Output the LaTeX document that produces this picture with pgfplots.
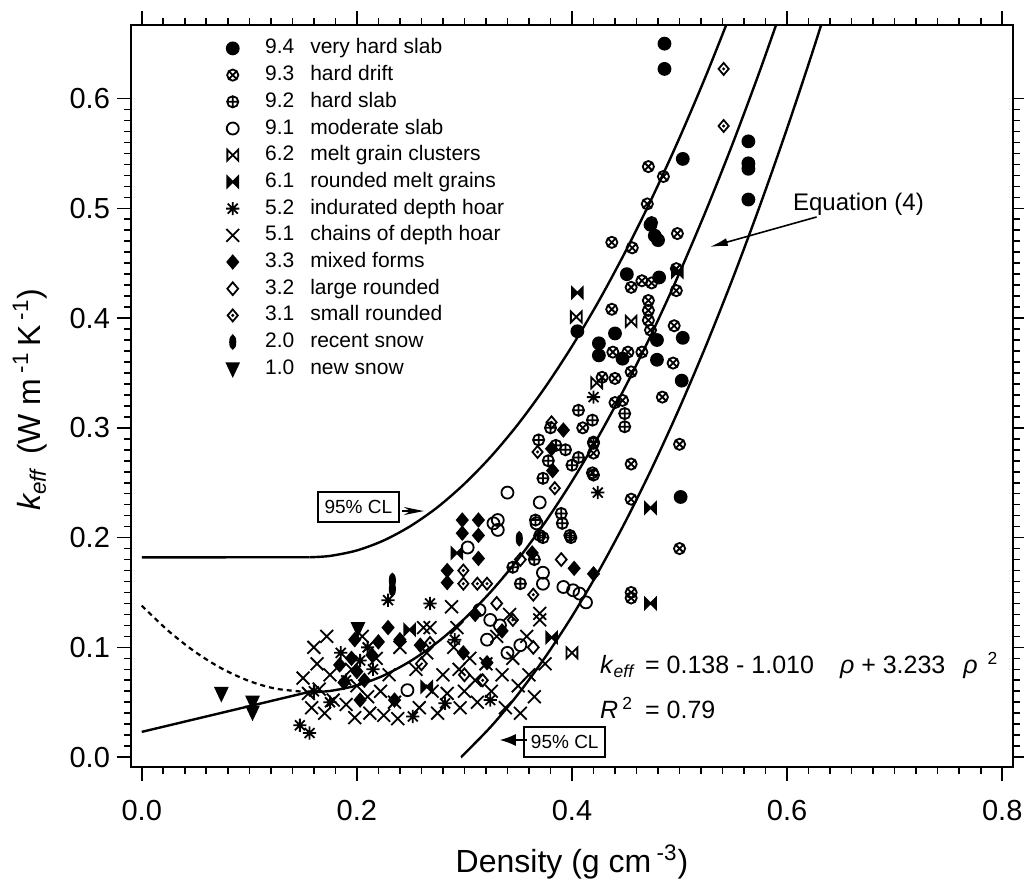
\documentclass[border=0pt]{standalone}
\usepackage{fontspec}
\setmainfont{Liberation Sans}
\usepackage{pgfplots}
\pgfplotsset{compat=1.18}
\usetikzlibrary{arrows.meta}

\pgfdeclareplotmark{bowtie}{%
  \pgfpathmoveto{\pgfqpoint{-\pgfplotmarksize}{\pgfplotmarksize}}%
  \pgfpathlineto{\pgfqpoint{\pgfplotmarksize}{-\pgfplotmarksize}}%
  \pgfpathlineto{\pgfqpoint{\pgfplotmarksize}{\pgfplotmarksize}}%
  \pgfpathlineto{\pgfqpoint{-\pgfplotmarksize}{-\pgfplotmarksize}}%
  \pgfpathclose\pgfusepathqstroke}
\pgfdeclareplotmark{bowtie*}{%
  \pgfpathmoveto{\pgfqpoint{-\pgfplotmarksize}{\pgfplotmarksize}}%
  \pgfpathlineto{\pgfqpoint{\pgfplotmarksize}{-\pgfplotmarksize}}%
  \pgfpathlineto{\pgfqpoint{\pgfplotmarksize}{\pgfplotmarksize}}%
  \pgfpathlineto{\pgfqpoint{-\pgfplotmarksize}{-\pgfplotmarksize}}%
  \pgfpathclose\pgfusepathqfillstroke}
\pgfdeclareplotmark{star8}{%
  \pgfpathmoveto{\pgfqpoint{0pt}{\pgfplotmarksize}}\pgfpathlineto{\pgfqpoint{0pt}{-\pgfplotmarksize}}%
  \pgfpathmoveto{\pgfqpoint{\pgfplotmarksize}{0pt}}\pgfpathlineto{\pgfqpoint{-\pgfplotmarksize}{0pt}}%
  \pgfpathmoveto{\pgfqpoint{0.75\pgfplotmarksize}{0.75\pgfplotmarksize}}\pgfpathlineto{\pgfqpoint{-0.75\pgfplotmarksize}{-0.75\pgfplotmarksize}}%
  \pgfpathmoveto{\pgfqpoint{-0.75\pgfplotmarksize}{0.75\pgfplotmarksize}}\pgfpathlineto{\pgfqpoint{0.75\pgfplotmarksize}{-0.75\pgfplotmarksize}}%
  \pgfusepathqstroke}
\pgfdeclareplotmark{bigx}{%
  \pgfpathmoveto{\pgfqpoint{-\pgfplotmarksize}{-\pgfplotmarksize}}\pgfpathlineto{\pgfqpoint{\pgfplotmarksize}{\pgfplotmarksize}}%
  \pgfpathmoveto{\pgfqpoint{-\pgfplotmarksize}{\pgfplotmarksize}}\pgfpathlineto{\pgfqpoint{\pgfplotmarksize}{-\pgfplotmarksize}}%
  \pgfusepathqstroke}
\pgfdeclareplotmark{odiam}{%
  \pgfpathmoveto{\pgfqpoint{0pt}{\pgfplotmarksize}}%
  \pgfpathlineto{\pgfqpoint{0.85\pgfplotmarksize}{0pt}}%
  \pgfpathlineto{\pgfqpoint{0pt}{-\pgfplotmarksize}}%
  \pgfpathlineto{\pgfqpoint{-0.85\pgfplotmarksize}{0pt}}%
  \pgfpathclose\pgfusepathqstroke}
\pgfdeclareplotmark{fdiam}{%
  \pgfpathmoveto{\pgfqpoint{0pt}{\pgfplotmarksize}}%
  \pgfpathlineto{\pgfqpoint{0.85\pgfplotmarksize}{0pt}}%
  \pgfpathlineto{\pgfqpoint{0pt}{-\pgfplotmarksize}}%
  \pgfpathlineto{\pgfqpoint{-0.85\pgfplotmarksize}{0pt}}%
  \pgfpathclose\pgfusepathqfillstroke}
\pgfdeclareplotmark{ddiam}{%
  \pgfpathmoveto{\pgfqpoint{0pt}{\pgfplotmarksize}}%
  \pgfpathlineto{\pgfqpoint{0.85\pgfplotmarksize}{0pt}}%
  \pgfpathlineto{\pgfqpoint{0pt}{-\pgfplotmarksize}}%
  \pgfpathlineto{\pgfqpoint{-0.85\pgfplotmarksize}{0pt}}%
  \pgfpathclose\pgfusepathqstroke
  \pgfpathcircle{\pgfpointorigin}{0.28\pgfplotmarksize}\pgfusepathqfill}
\pgfdeclareplotmark{snowell}{%
  \pgfpathellipse{\pgfpointorigin}{\pgfqpoint{0.4\pgfplotmarksize}{0pt}}{\pgfqpoint{0pt}{\pgfplotmarksize}}%
  \pgfusepathqfillstroke}
\pgfdeclareplotmark{tridown}{%
  \pgfpathmoveto{\pgfqpoint{0pt}{-\pgfplotmarksize}}%
  \pgfpathlineto{\pgfqpoint{0.85\pgfplotmarksize}{0.8\pgfplotmarksize}}%
  \pgfpathlineto{\pgfqpoint{-0.85\pgfplotmarksize}{0.8\pgfplotmarksize}}%
  \pgfpathclose\pgfusepathqfillstroke}

\pgfplotsset{pts/.style={only marks, black, mark options={line width=0.9pt, solid, fill=black}}}

\begin{document}
\begin{tikzpicture}
\useasboundingbox (-65.5pt,-59pt) rectangle (446.5pt,383.5pt);
\begin{axis}[
  at={(0,0)}, anchor=south west,
  width=441pt, height=371pt, scale only axis,
  xmin=-0.01, xmax=0.81, ymin=-0.009, ymax=0.667,
  axis line style={line width=1pt},
  tick align=outside,
  xtick={0,0.2,0.4,0.6,0.8},
  ytick={0,0.1,0.2,0.3,0.4,0.5,0.6},
  minor x tick num=9, minor y tick num=9,
  major tick length=7pt, minor tick length=3.5pt,
  tick style={line width=0.8pt, black},
  ticklabel style={font=\fontsize{14.5}{17}\selectfont},
  xticklabel shift=6pt,
  /pgf/number format/assume math mode=true,
  xticklabel style={/pgf/number format/.cd,fixed,fixed zerofill,precision=1},
  yticklabel style={/pgf/number format/.cd,fixed,fixed zerofill,precision=1},
  xlabel={Density (g cm\,\textsuperscript{-3})},
  ylabel={{\itshape k}\textsubscript{\itshape eff}\hspace{7pt}(W m\,\textsuperscript{-1}\,K\,\textsuperscript{-1})},
  label style={font=\fontsize{16}{19}\selectfont},
  xlabel style={at={(axis description cs:0.5,-0.128)}, anchor=center},
  ylabel style={at={(axis description cs:-0.1145,0.495)}, anchor=center},
  legend cell align=left,
  legend style={draw=none, fill=none, at={(axis cs:0.0727,0.6547)}, anchor=north west,
    font=\fontsize{10.5}{12}\selectfont, inner sep=0pt, row sep=3.85pt, column sep=10pt,
    nodes={inner sep=0pt, text height=7.5pt, text depth=2pt}},
  legend image code/.code={\draw[#1] plot coordinates {(0pt,0pt)}; \path (-6pt,-3pt) (6pt,3pt);},
]
% curves
\addplot[black, line width=1.2pt, forget plot] coordinates {(0,0.023) (0.156,0.0595)};
\addplot[black, line width=1.2pt, smooth, forget plot] coordinates {
(0.156,0.0591) (0.175,0.0603) (0.2,0.0653) (0.225,0.0744) (0.25,0.0876) (0.275,0.1047)
(0.3,0.1260) (0.325,0.1512) (0.35,0.1805) (0.375,0.2139) (0.4,0.2513) (0.425,0.2927)
(0.45,0.3382) (0.475,0.3877) (0.5,0.4413) (0.525,0.4989) (0.55,0.5605) (0.575,0.6262) (0.6,0.6959)};
\addplot[black, line width=1.1pt, dash pattern=on 2.5pt off 2pt, smooth, forget plot] coordinates {
(0,0.138) (0.025,0.1148) (0.05,0.0956) (0.075,0.0804) (0.1,0.0693) (0.125,0.0623) (0.156,0.0591)};
\addplot[black, line width=1.2pt, forget plot] coordinates {(0,0.182) (0.156,0.1821)};
\addplot[black, line width=1.2pt, smooth, forget plot] coordinates {
(0.156,0.1821) (0.175,0.1833) (0.2,0.1883) (0.225,0.1974) (0.25,0.2106) (0.275,0.2277)
(0.3,0.2490) (0.325,0.2742) (0.35,0.3035) (0.375,0.3369) (0.4,0.3743) (0.425,0.4157)
(0.45,0.4612) (0.475,0.5107) (0.5,0.5643) (0.525,0.6219) (0.55,0.6835)};
\addplot[black, line width=1.2pt, smooth, forget plot] coordinates {
(0.2968,0.0) (0.3,0.0030) (0.325,0.0282) (0.35,0.0575) (0.375,0.0909) (0.4,0.1283)
(0.425,0.1697) (0.45,0.2152) (0.475,0.2647) (0.5,0.3183) (0.525,0.3759) (0.55,0.4375)
(0.575,0.5032) (0.6,0.5729) (0.625,0.6466) (0.65,0.7244)};

% 9.4 very hard slab
\addplot[pts, mark=*, mark size=3pt] coordinates {
(0.486,0.650) (0.486,0.627) (0.503,0.545) (0.564,0.561) (0.564,0.541) (0.564,0.536)
(0.564,0.508) (0.405,0.388) (0.451,0.440) (0.481,0.437) (0.440,0.386) (0.425,0.377)
(0.425,0.366) (0.447,0.363) (0.479,0.380) (0.479,0.362) (0.503,0.382) (0.502,0.343)
(0.501,0.237) (0.473,0.485) (0.477,0.475) (0.480,0.471)};
\addlegendentry{9.4\hspace{8pt}very hard slab}
% 9.3 hard drift
\addplot[pts, mark=otimes, mark size=2.8pt] coordinates {
(0.471,0.538) (0.485,0.529) (0.470,0.504) (0.498,0.477) (0.437,0.469) (0.456,0.464)
(0.474,0.487) (0.465,0.434) (0.474,0.432) (0.455,0.428) (0.471,0.416) (0.471,0.407)
(0.471,0.398) (0.473,0.389) (0.497,0.445) (0.497,0.425) (0.437,0.408) (0.495,0.393)
(0.438,0.369) (0.452,0.369) (0.465,0.369) (0.494,0.359) (0.428,0.346) (0.440,0.345)
(0.455,0.351) (0.440,0.323) (0.447,0.325) (0.484,0.328) (0.500,0.285) (0.455,0.267)
(0.455,0.235) (0.500,0.190) (0.419,0.259) (0.420,0.286) (0.420,0.277) (0.455,0.150)
(0.455,0.145) (0.410,0.300)};
\addlegendentry{9.3\hspace{8pt}hard drift}
% 9.2 hard slab
\addplot[pts, mark=oplus, mark size=2.8pt] coordinates {
(0.406,0.316) (0.419,0.307) (0.420,0.287) (0.406,0.273) (0.420,0.257) (0.400,0.266)
(0.373,0.254) (0.369,0.289) (0.390,0.222) (0.391,0.213) (0.398,0.202) (0.370,0.202)
(0.449,0.313) (0.449,0.301) (0.366,0.216) (0.373,0.200) (0.399,0.200) (0.352,0.158)
(0.345,0.173) (0.385,0.284) (0.394,0.280) (0.378,0.270) (0.380,0.300) (0.365,0.180)};
\addlegendentry{9.2\hspace{8pt}hard slab}
% 9.1 moderate slab
\addplot[pts, mark=o, mark size=3pt] coordinates {
(0.340,0.241) (0.331,0.216) (0.331,0.207) (0.327,0.213) (0.303,0.191) (0.370,0.232)
(0.367,0.213) (0.373,0.168) (0.373,0.158) (0.392,0.155) (0.401,0.152) (0.407,0.149)
(0.413,0.141) (0.321,0.107) (0.247,0.061) (0.314,0.134) (0.324,0.125) (0.333,0.120)
(0.352,0.102) (0.340,0.095)};
\addlegendentry{9.1\hspace{8pt}moderate slab}
% 6.2 melt grain clusters
\addplot[pts, mark=bowtie, mark size=2.7pt] coordinates {
(0.404,0.401) (0.455,0.397) (0.400,0.095) (0.423,0.341)};
\addlegendentry{6.2\hspace{8pt}melt grain clusters}
% 6.1 rounded melt grains
\addplot[pts, mark=bowtie*, mark size=2.7pt] coordinates {
(0.405,0.423) (0.473,0.227) (0.473,0.140) (0.381,0.109) (0.249,0.116) (0.293,0.186)
(0.498,0.442) (0.265,0.064)};
\addlegendentry{6.1\hspace{8pt}rounded melt grains}
% 5.2 indurated depth hoar
\addplot[pts, mark=star8, mark size=3.3pt] coordinates {
(0.420,0.328) (0.424,0.241) (0.268,0.140) (0.156,0.022) (0.203,0.088) (0.229,0.143)
(0.252,0.037) (0.282,0.049) (0.291,0.107) (0.324,0.052) (0.147,0.029) (0.160,0.060)
(0.190,0.070) (0.210,0.100) (0.175,0.050) (0.185,0.095) (0.215,0.080)};
\addlegendentry{5.2\hspace{8pt}indurated depth hoar}
% 5.1 chains of depth hoar
\addplot[pts, mark=bigx, mark size=3.2pt] coordinates {
(0.150,0.072) (0.155,0.058) (0.158,0.045) (0.163,0.085) (0.165,0.062) (0.170,0.040)
(0.172,0.110) (0.175,0.075) (0.178,0.052) (0.160,0.100)
(0.190,0.048) (0.195,0.080) (0.198,0.036) (0.200,0.065) (0.205,0.110) (0.210,0.055)
(0.212,0.040) (0.218,0.090) (0.222,0.060) (0.225,0.038) (0.230,0.075) (0.235,0.050)
(0.240,0.100) (0.238,0.035)
(0.255,0.080) (0.258,0.045) (0.262,0.118) (0.265,0.095) (0.268,0.118) (0.270,0.060)
(0.275,0.040) (0.280,0.075) (0.284,0.058) (0.288,0.137) (0.290,0.100) (0.293,0.118)
(0.295,0.080) (0.296,0.045) (0.300,0.060) (0.305,0.090) (0.310,0.070) (0.312,0.050)
(0.320,0.085) (0.325,0.060) (0.330,0.110) (0.335,0.075) (0.338,0.045) (0.342,0.130)
(0.345,0.090) (0.350,0.065) (0.352,0.040) (0.358,0.110) (0.360,0.075) (0.365,0.055)
(0.370,0.131) (0.370,0.125) (0.375,0.085)};
\addlegendentry{5.1\hspace{8pt}chains of depth hoar}
% 3.3 mixed forms
\addplot[pts, mark=fdiam, mark size=3.2pt] coordinates {
(0.298,0.216) (0.298,0.204) (0.313,0.216) (0.313,0.202) (0.284,0.170) (0.284,0.159)
(0.313,0.181) (0.392,0.298) (0.381,0.281) (0.382,0.261) (0.363,0.186) (0.402,0.172)
(0.420,0.167) (0.321,0.086) (0.229,0.118) (0.299,0.095) (0.198,0.107) (0.184,0.084)
(0.207,0.070) (0.214,0.093) (0.240,0.107) (0.203,0.052) (0.259,0.102) (0.235,0.052)
(0.310,0.130) (0.335,0.115) (0.195,0.090) (0.200,0.078) (0.220,0.105) (0.188,0.068)};
\addlegendentry{3.3\hspace{8pt}mixed forms}
% 3.2 large rounded
\addplot[pts, mark=odiam, mark size=3.2pt] coordinates {
(0.364,0.100) (0.330,0.140) (0.352,0.180) (0.300,0.075) (0.260,0.085) (0.390,0.180)};
\addlegendentry{3.2\hspace{8pt}large rounded}
% 3.1 small rounded
\addplot[pts, mark=ddiam, mark size=3pt] coordinates {
(0.541,0.627) (0.541,0.575) (0.381,0.305) (0.368,0.278) (0.384,0.245) (0.299,0.170)
(0.299,0.158) (0.312,0.158) (0.321,0.158) (0.364,0.148) (0.317,0.070) (0.268,0.104)
(0.345,0.125)};
\addlegendentry{3.1\hspace{8pt}small rounded}
% 2.0 recent snow
\addplot[pts, mark=snowell, mark size=3.3pt] coordinates {
(0.233,0.161) (0.233,0.153) (0.351,0.199)};
\addlegendentry{2.0\hspace{8pt}recent snow}
% 1.0 new snow
\addplot[pts, mark=tridown, mark size=3.5pt] coordinates {
(0.074,0.058) (0.103,0.050) (0.103,0.041) (0.201,0.117)};
\addlegendentry{1.0\hspace{8pt}new snow}

% annotations
\node[draw, line width=0.8pt, inner sep=0pt, minimum width=40.5pt, minimum height=15pt,
  font=\fontsize{9.5}{11}\selectfont] at (axis cs:0.2014,0.2279) {95\% CL};
\draw[line width=0.7pt, -{Stealth[length=10pt,width=4pt]}] (axis cs:0.2418,0.2242) -- (axis cs:0.2623,0.2242);
\node[draw, line width=0.8pt, inner sep=0pt, minimum width=40.5pt, minimum height=15pt,
  font=\fontsize{9.5}{11}\selectfont] at (axis cs:0.3933,0.0138) {95\% CL};
\draw[line width=0.7pt, -{Latex[length=8pt,width=6pt]}] (axis cs:0.3580,0.0156) -- (axis cs:0.3329,0.0156);
\node[anchor=base west, inner sep=0pt, font=\fontsize{12}{14}\selectfont] at (axis cs:0.6052,0.4976) {Equation (4)};
\draw[line width=0.8pt, -{Latex[length=9pt,width=4pt]}] (axis cs:0.6274,0.4921) -- (axis cs:0.5281,0.4648);
\node[anchor=base west, inner sep=0pt, font=\fontsize{12.5}{14}\selectfont] at (axis cs:0.4258,0.0766)
  {\makebox[22.5pt][l]{\textit{k}\textsubscript{\textit{eff}}}= 0.138 - 1.010\hspace{13pt}\textit{ρ} + 3.233\hspace{9pt}\textit{ρ}\hspace{5pt}\textsuperscript{2}};
\node[anchor=base west, inner sep=0pt, font=\fontsize{12.5}{14}\selectfont] at (axis cs:0.4258,0.0356)
  {\makebox[22.5pt][l]{\textit{R}\,\textsuperscript{2}}= 0.79};
\end{axis}
\end{tikzpicture}
\end{document}
